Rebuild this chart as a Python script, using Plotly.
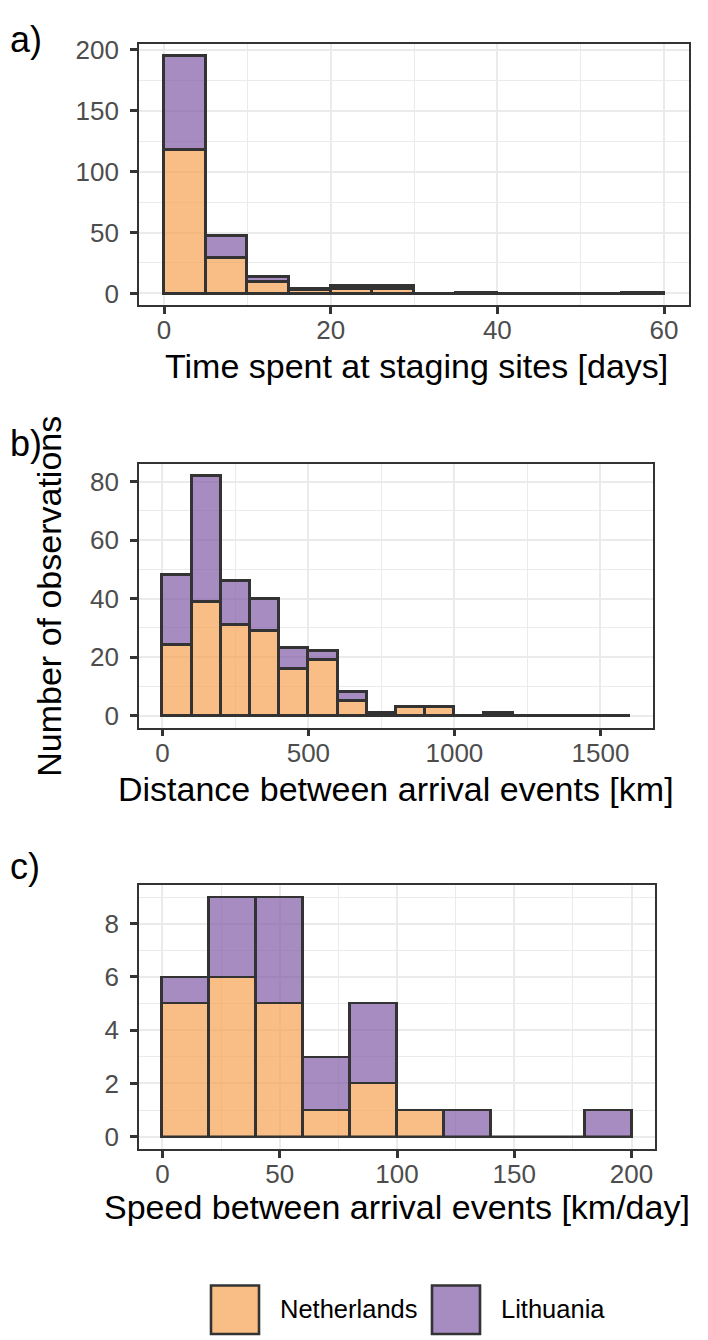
import numpy as np
import plotly.graph_objects as go

# counts per bin, Netherlands stacked under Lithuania
# a) time spent at staging sites, 5-day bins from 0 to 60
days_bin = 5
days_nl = [118, 29, 10, 3, 4, 4, 0, 0, 0, 0, 0, 0]
days_lt = [77, 18, 4, 1, 2, 2, 0, 1, 0, 0, 0, 1]

# b) distance between arrival events, 100-km bins from 0 to 1600
dist_bin = 100
dist_nl = [24, 39, 31, 29, 16, 19, 5, 0, 3, 3, 0, 0, 0, 0, 0, 0]
dist_lt = [24, 43, 15, 11, 7, 3, 3, 1, 0, 0, 0, 1, 0, 0, 0, 0]

# c) speed between arrival events, 20 km/day bins from 0 to 200
speed_bin = 20
speed_nl = [5, 6, 5, 1, 2, 1, 0, 0, 0, 0]
speed_lt = [1, 3, 4, 2, 3, 0, 1, 0, 0, 1]

x_titles = ["Time spent at staging sites [days]",
            "Distance between arrival events [km]",
            "Speed between arrival events [km/day]"]
y_title = "Number of observations"
panel_tags = ["a)", "b)", "c)"]
groups = ["Netherlands", "Lithuania"]

# the page body has an 8px margin, so the figure is drawn 8px in from the corner
OFF = 8
W, H = 708 - OFF, 1340 - OFF
ORANGE = "rgba(246,162,82,0.7)"
PURPLE = "rgba(129,91,168,0.7)"
EDGE = "#333333"
GRID = "#EBEBEB"
FONT = "Liberation Sans, Arial, sans-serif"


def px(x):
    return (x - OFF) / W


def py(y):
    return 1 - (y - OFF) / H


fig = go.Figure()

panels = [
    (days_bin, days_nl, days_lt, "x", "y"),
    (dist_bin, dist_nl, dist_lt, "x2", "y2"),
    (speed_bin, speed_nl, speed_lt, "x3", "y3"),
]
for width, nl, lt, xa, ya in panels:
    centers = np.arange(len(nl)) * width + width / 2
    fig.add_trace(go.Bar(x=centers, y=nl, width=width, name=groups[0],
                         marker=dict(color=ORANGE, line=dict(color=EDGE, width=2.6)),
                         xaxis=xa, yaxis=ya, showlegend=False))
    fig.add_trace(go.Bar(x=centers, y=lt, width=width, name=groups[1],
                         marker=dict(color=PURPLE, line=dict(color=EDGE, width=2.6)),
                         xaxis=xa, yaxis=ya, showlegend=False))
    # empty bins are drawn as a flat outline at zero, like ggplot does
    fig.add_trace(go.Scatter(x=[0, len(nl) * width], y=[0, 0], mode="lines",
                             line=dict(color=EDGE, width=2.6),
                             xaxis=xa, yaxis=ya, showlegend=False, hoverinfo="skip"))


def axis_style(rng, dtick, domain, anchor, standoff):
    return dict(range=rng, dtick=dtick, domain=domain, anchor=anchor,
                showline=True, mirror=True, linecolor=EDGE, linewidth=1.6,
                ticks="outside", ticklen=7, tickwidth=2.5, tickcolor=EDGE,
                tickfont=dict(size=26, color="#4D4D4D", family=FONT),
                showgrid=True, gridcolor=GRID, gridwidth=2, zeroline=False,
                minor=dict(dtick=dtick / 2, showgrid=True, gridcolor=GRID, gridwidth=1),
                ticklabelstandoff=standoff)


fig.update_layout(
    width=W, height=H,
    margin=dict(l=0, r=0, t=0, b=0),
    paper_bgcolor="white", plot_bgcolor="white",
    barmode="stack", bargap=0,
    font=dict(family=FONT, color="black"),
    xaxis=axis_style([-3, 63], 20, [px(139), px(689)], "y", -6),
    yaxis=axis_style([-9.75, 204.75], 50, [py(299), py(35)], "x", 6),
    xaxis2=axis_style([-80, 1680], 500, [px(139), px(653)], "y2", -6),
    yaxis2=axis_style([-4.1, 86.1], 20, [py(725), py(459)], "x2", 6),
    xaxis3=axis_style([-10, 210], 50, [px(139), px(655)], "y3", -6),
    yaxis3=axis_style([-0.45, 9.45], 2, [py(1150), py(884)], "x3", 6),
)

annotations = []
title_pos = [(416, 360), (396, 787), (397, 1209)]
for text, (tx, ty) in zip(x_titles, title_pos):
    annotations.append(dict(text=text, x=px(tx), y=py(ty), xref="paper", yref="paper",
                            xanchor="center", yanchor="middle", showarrow=False,
                            font=dict(size=34, color="black", family=FONT)))
annotations.append(dict(text=y_title, x=px(49), y=py(593), xref="paper", yref="paper",
                        xanchor="center", yanchor="middle", showarrow=False, textangle=-90,
                        font=dict(size=34, color="black", family=FONT)))
for text, ty in zip(panel_tags, [31, 438, 865]):
    annotations.append(dict(text=text, x=0, y=py(ty), xref="paper", yref="paper",
                            xanchor="left", yanchor="middle", showarrow=False,
                            font=dict(size=36, color="black", family=FONT)))

# legend drawn by hand so the keys get ggplot's large square size
shapes = []
legend_items = [(groups[0], ORANGE, 211, 278), (groups[1], PURPLE, 432, 499)]
for name, color, kx, tx in legend_items:
    shapes.append(dict(type="rect", xref="paper", yref="paper",
                       x0=px(kx), x1=px(kx + 48), y0=py(1337), y1=py(1288),
                       fillcolor=color, line=dict(color=EDGE, width=2.6)))
    annotations.append(dict(text=name, x=px(tx), y=py(1312), xref="paper", yref="paper",
                            xanchor="left", yanchor="middle", showarrow=False,
                            font=dict(size=25.5, color="black", family=FONT)))

fig.update_layout(annotations=annotations, shapes=shapes)

fig.write_html("out.html")
